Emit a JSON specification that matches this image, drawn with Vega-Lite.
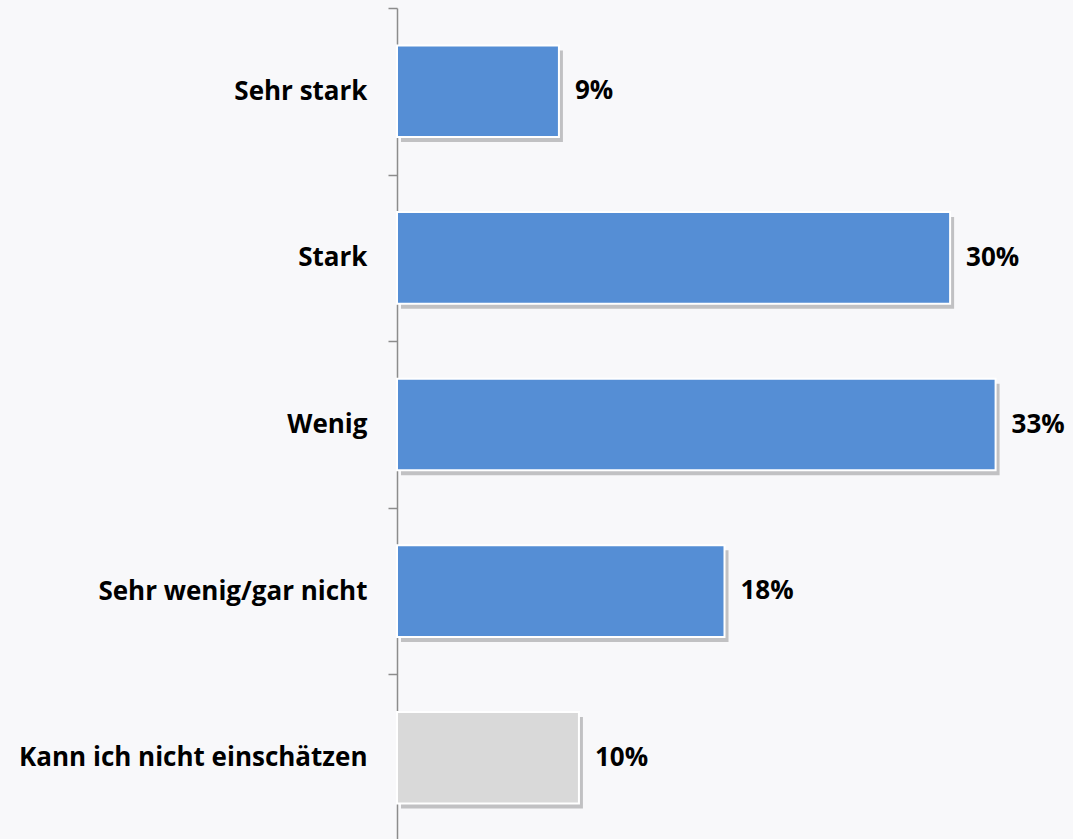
{
  "$schema": "https://vega.github.io/schema/vega-lite/v6.json",
  "autosize": "none",
  "width": 655,
  "height": 833,
  "padding": {"left": 397, "top": 8, "right": 21, "bottom": 0},
  "background": "#f8f8fa",
  "config": {"view": {"stroke": null}},
  "data": {"values": [
    {"category": "Sehr stark", "value": 8.9, "label": "9%", "group": "a"},
    {"category": "Stark", "value": 30.4, "label": "30%", "group": "a"},
    {"category": "Wenig", "value": 32.9, "label": "33%", "group": "a"},
    {"category": "Sehr wenig/gar nicht", "value": 18.0, "label": "18%", "group": "a"},
    {"category": "Kann ich nicht einschätzen", "value": 10.0, "label": "10%", "group": "b"}
  ]},
  "encoding": {
    "y": {"field": "category", "type": "nominal", "sort": null,
      "scale": {"paddingInner": 0, "paddingOuter": 0},
      "axis": {"title": null, "domainColor": "#8c8c8c", "domainWidth": 1.5, "tickColor": "#8c8c8c", "tickWidth": 1.5, "tickSize": 9, "tickBand": "extent",
        "labelFont": "Open Sans", "labelFontWeight": "bold", "labelFontSize": 26, "labelColor": "#000000", "labelPadding": 21, "labelLimit": 400}},
    "x": {"field": "value", "type": "quantitative", "scale": {"domain": [0, 36]}, "axis": null}
  },
  "layer": [
    {"mark": {"type": "bar", "height": {"band": 0.55}, "color": "#000000", "opacity": 0.22, "xOffset": 4, "yOffset": 5, "x2Offset": 4, "y2Offset": 5}},
    {"mark": {"type": "bar", "height": {"band": 0.55}, "stroke": "#ffffff", "strokeWidth": 2},
      "encoding": {"color": {"field": "group", "type": "nominal", "scale": {"domain": ["a", "b"], "range": ["#558ed5", "#d9d9d9"]}, "legend": null}}},
    {"mark": {"type": "text", "align": "left", "baseline": "middle", "dx": 16, "font": "Open Sans", "fontWeight": "bold", "fontSize": 26, "color": "#000000"},
      "encoding": {"text": {"field": "label"}}}
  ]
}
